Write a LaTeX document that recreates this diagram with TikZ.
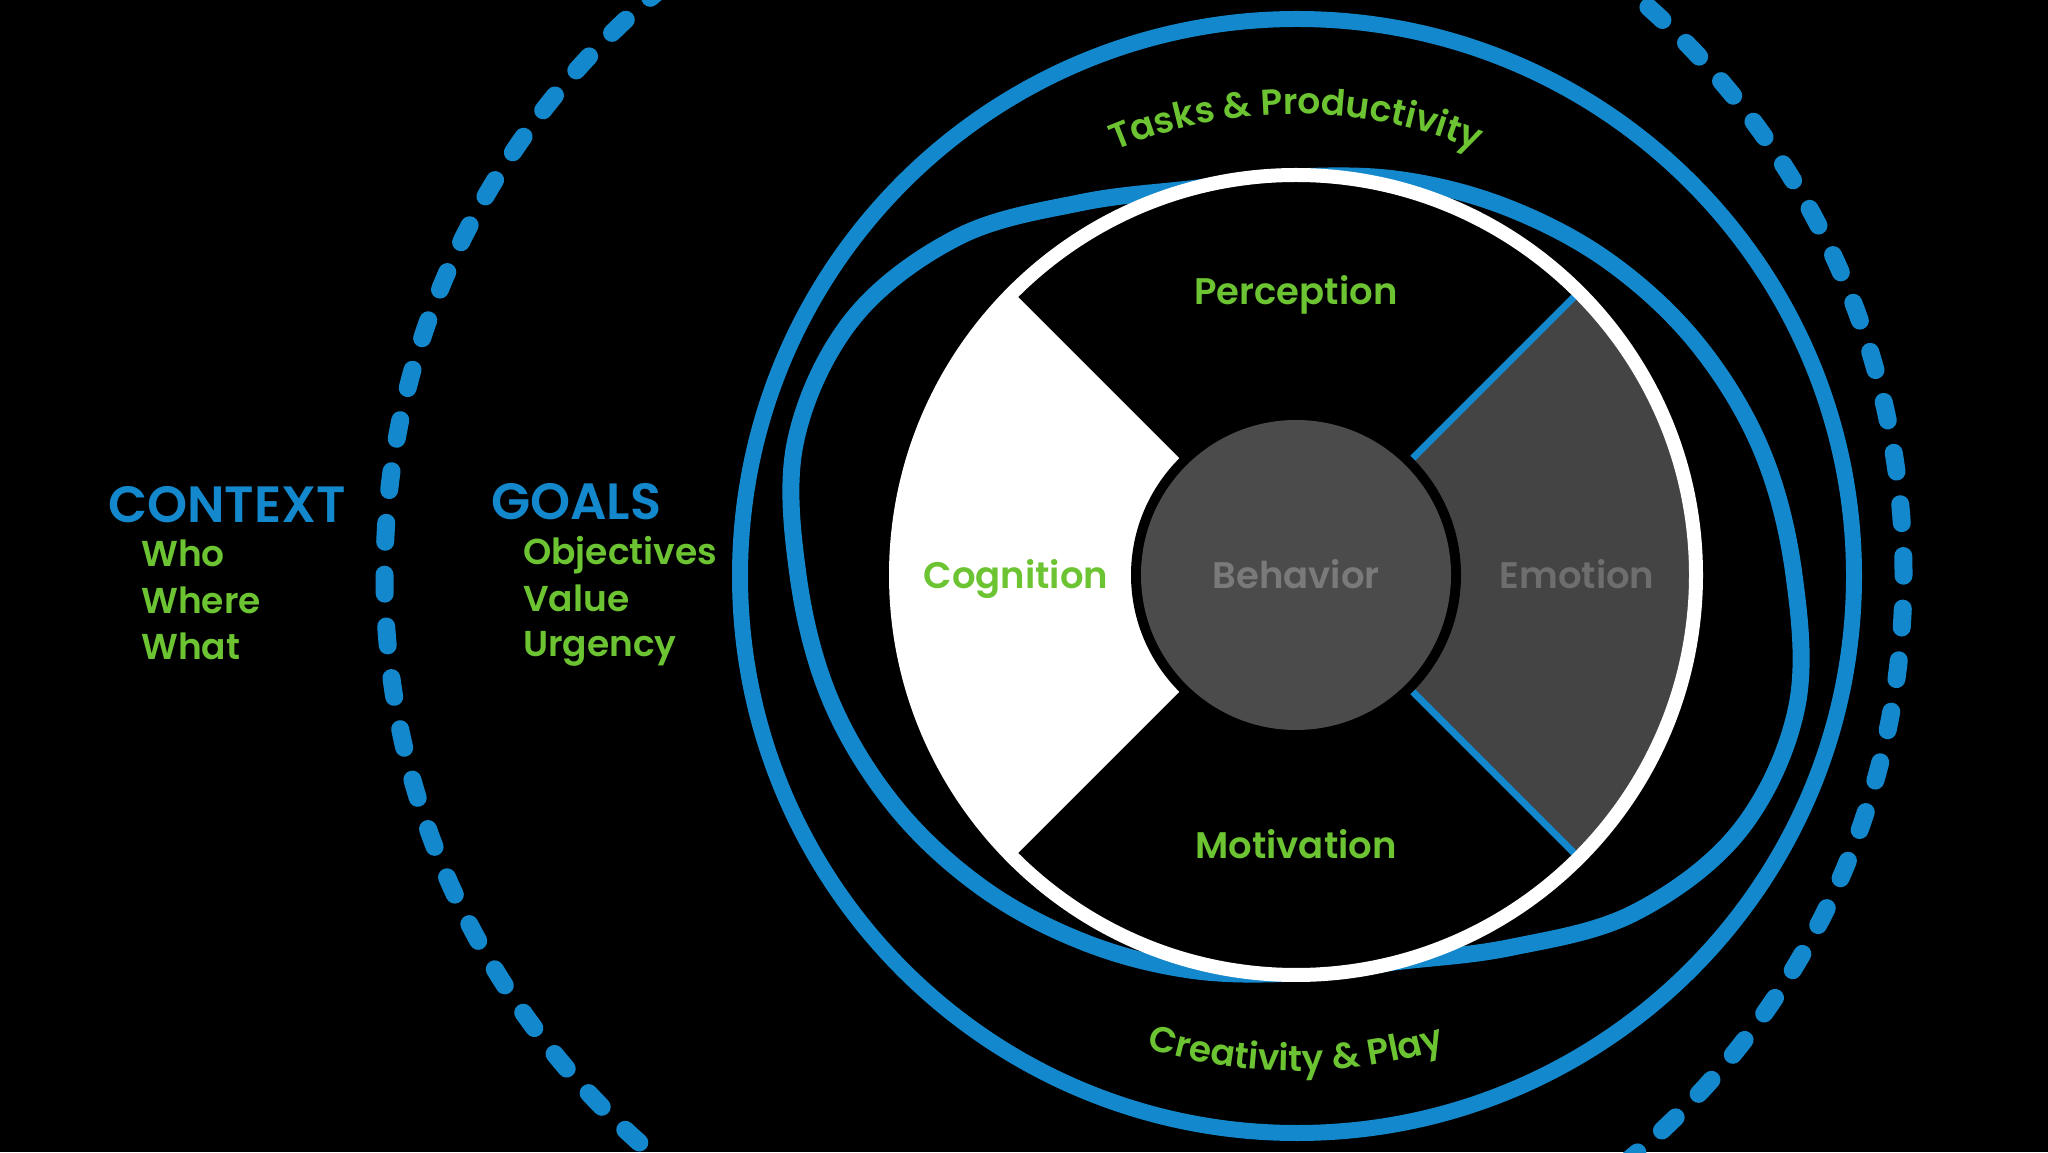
\documentclass[tikz,border=0pt]{standalone}
\usepackage{fontspec}
\setmainfont{Poppins}[BoldFont={Poppins SemiBold}]
\usetikzlibrary{decorations.text}
\definecolor{cblue}{RGB}{20,136,204}
\definecolor{cgreen}{RGB}{108,196,50}
\definecolor{qgray}{RGB}{68,68,68}
\definecolor{cgray}{RGB}{75,75,75}
\definecolor{tgray}{RGB}{122,122,122}
\definecolor{egray}{RGB}{110,110,110}
\begin{document}
\begin{tikzpicture}[x=1pt,y=1pt,
  lbl/.style={font=\fontsize{37}{40}\selectfont\bfseries, text=cgreen, inner sep=0pt, anchor=base},
  head/.style={font=\fontsize{51}{56}\selectfont\bfseries, text=cblue, inner sep=0pt, anchor=base west},
  item/.style={font=\fontsize{36}{40}\selectfont\bfseries, text=cgreen, inner sep=0pt, anchor=base west},
  bluering/.style={draw=cblue, line width=16pt},
  orbit/.style={draw=cblue, line width=17pt},
  dotring/.style={draw=cblue, line width=18pt, line cap=round, dash pattern=on 19pt off 32.87pt},
  divider/.style={draw=cblue, line width=7pt},
  arctext/.style={decorate, decoration={text along path, text align=center, text={#1}}}]
\useasboundingbox (0,0) rectangle (2048,1152);
\fill[black] (0,0) rectangle (2048,1152);
\clip (0,0) rectangle (2048,1152);
\coordinate (C) at (1296,577);
\coordinate (D) at (1144,577);
\coordinate (O) at (1297,576);
% outer rings
\draw[dotring] (D) circle[radius=759.5];
\draw[bluering] (O) circle[radius=557];
\draw[orbit, shift={(C)}] plot[smooth cycle, tension=0.6] coordinates {
  (0:498) (15:482) (30:463) (45:443) (60:424) (75:409) (90:398) (105:400)
  (120:430) (135:478) (150:512) (165:518)
  (180:498) (195:482) (210:463) (225:443) (240:424) (255:409) (270:398) (285:400)
  (300:430) (315:478) (330:512) (345:518)};
% wheel
\fill[black] (C) circle[radius=400];
\fill[white, shift={(C)}] (0,0) -- (135:400) arc[start angle=135, end angle=225, radius=400] -- cycle;
\fill[qgray, shift={(C)}] (0,0) -- (-45:400) arc[start angle=-45, end angle=45, radius=400] -- cycle;
\draw[divider, shift={(C)}] (45:160) -- (45:396);
\draw[divider, shift={(C)}] (-45:160) -- (-45:396);
\draw[white, line width=14pt] (C) circle[radius=400];
\fill[black] (C) circle[radius=165];
\fill[cgray] (C) circle[radius=155];
% curved labels
\path[arctext={|\fontsize{36}{40}\selectfont\bfseries\color{cgreen}|Tasks {\&} Productivity}, shift={(C)}] (150:461) arc[start angle=150, end angle=30, radius=461];
\path[arctext={|\fontsize{36}{40}\selectfont\bfseries\color{cgreen}|Creativity {\&} Play}, shift={(C)}] (210:496) arc[start angle=210, end angle=330, radius=496];
% wheel labels
\node[lbl] (perc) at (1296,847) {Perception};
\node[lbl] (cogn) at (1016,563) {Cognition};
\node[lbl, text=tgray] (behav) at (1296,563) {Behavior};
\node[lbl, text=egray] (emot) at (1577,563) {Emotion};
\node[lbl] (motiv) at (1296,293) {Motivation};
% left lists
\node[head] (ctx) at (108,629) {CONTEXT};
\node[item] (who) at (141,585) {Who};
\node[item] (where) at (141,538) {Where};
\node[item] (what) at (141,492) {What};
\node[head] (goals) at (491,632) {GOALS};
\node[item] (obj) at (523,587) {Objectives};
\node[item] (val) at (523,540) {Value};
\node[item] (urg) at (523,495) {Urgency};
\end{tikzpicture}
\end{document}
